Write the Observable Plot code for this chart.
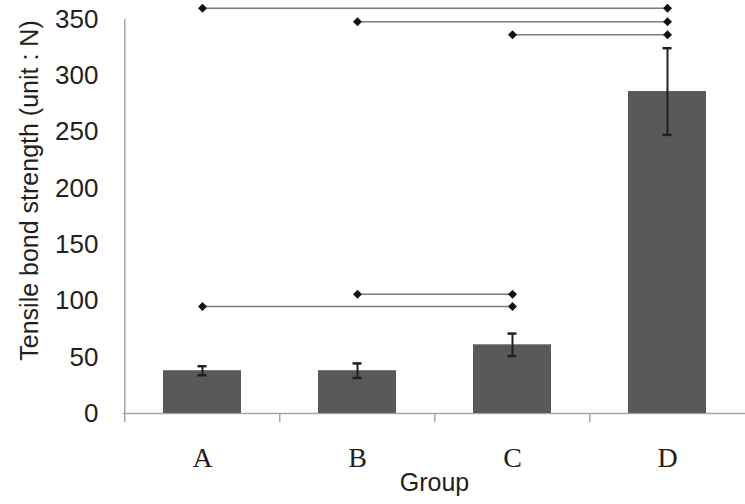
<!DOCTYPE html>
<html><head><meta charset="utf-8">
<script src="https://cdn.jsdelivr.net/npm/d3@7"></script>
<script src="https://cdn.jsdelivr.net/npm/@observablehq/plot@0.6"></script>
<style>body{margin:0;background:#fff}</style>
</head><body><div id="chart"></div>
<script>
const groups = ["A", "B", "C", "D"];
const means = [38, 38, 61, 286];
const errors = [4, 6.5, 10, 38.5];
const compareFrom = ["A", "B", "C", "A", "B"];
const compareTo = ["D", "D", "D", "C", "C"];
const compareLevel = [360, 348, 336.5, 95, 106];
const yTicks = [0, 50, 100, 150, 200, 250, 300, 350];
const yLabel = "Tensile bond strength (unit : N)";
const xLabel = "Group";

const bars = groups.map((g, i) => ({group: g, mean: means[i], err: errors[i]}));
const pairs = compareFrom.map((f, i) => ({from: f, to: compareTo[i], level: compareLevel[i]}));
const ends = pairs.flatMap(p => [{group: p.from, level: p.level}, {group: p.to, level: p.level}]);

const W = 745, H = 504, ML = 123, MR = 0, MT = 19, MB = 91;
const step = (W - ML - MR) / groups.length;
const sans = "'Liberation Sans', Arial, sans-serif";
const serif = "'Liberation Serif', 'Times New Roman', serif";

const plot = Plot.plot({
  width: W, height: H,
  marginLeft: ML, marginRight: MR, marginTop: MT, marginBottom: MB,
  style: {background: "#fff", color: "#231f20", fontFamily: sans},
  x: {domain: groups, paddingInner: 0.5, paddingOuter: 0.25, label: null},
  y: {domain: [0, 350], label: null},
  marks: [
    Plot.ruleY([0], {stroke: "#a6a6a6", strokeWidth: 1.5}),
    Plot.ruleX(groups, {x: d => d, y1: 0, y2: 0, insetBottom: -9, dx: -step / 2, stroke: "#a6a6a6", strokeWidth: 1.5}),
    Plot.ruleX(groups.slice(0, 1), {x: d => d, y1: 0, y2: 350, dx: -step / 2, stroke: "#a6a6a6", strokeWidth: 1.5}),
    Plot.barY(bars, {x: "group", y: "mean", fill: "#595959"}),
    Plot.ruleX(bars, {x: "group", y1: d => d.mean - d.err, y2: d => d.mean + d.err, stroke: "#231f20", strokeWidth: 2}),
    Plot.tickY(bars, {x: "group", y: d => d.mean + d.err, insetLeft: 34.5, insetRight: 34.5, stroke: "#231f20", strokeWidth: 2.5}),
    Plot.tickY(bars, {x: "group", y: d => d.mean - d.err, insetLeft: 34.5, insetRight: 34.5, stroke: "#231f20", strokeWidth: 2.5}),
    Plot.link(pairs, {x1: "from", x2: "to", y1: "level", y2: "level", stroke: "#7a7a7a", strokeWidth: 1.5}),
    Plot.dot(ends, {x: "group", y: "level", symbol: "square", r: 3.6, rotate: 45, fill: "#111", stroke: "none"}),
    Plot.axisY({ticks: yTicks, tickSize: 0, tickPadding: 25, fontSize: 26, label: null}),
    Plot.axisX({tickSize: 0, tickPadding: 34, fontSize: 28, fontFamily: serif, label: null}),
    Plot.text([xLabel], {frameAnchor: "bottom", dy: 77, fontSize: 25}),
    Plot.text([yLabel], {frameAnchor: "left", textAnchor: "middle", rotate: -90, dx: -94, dy: -26, fontSize: 25})
  ]
});
document.getElementById("chart").append(plot);
</script>
</body></html>
